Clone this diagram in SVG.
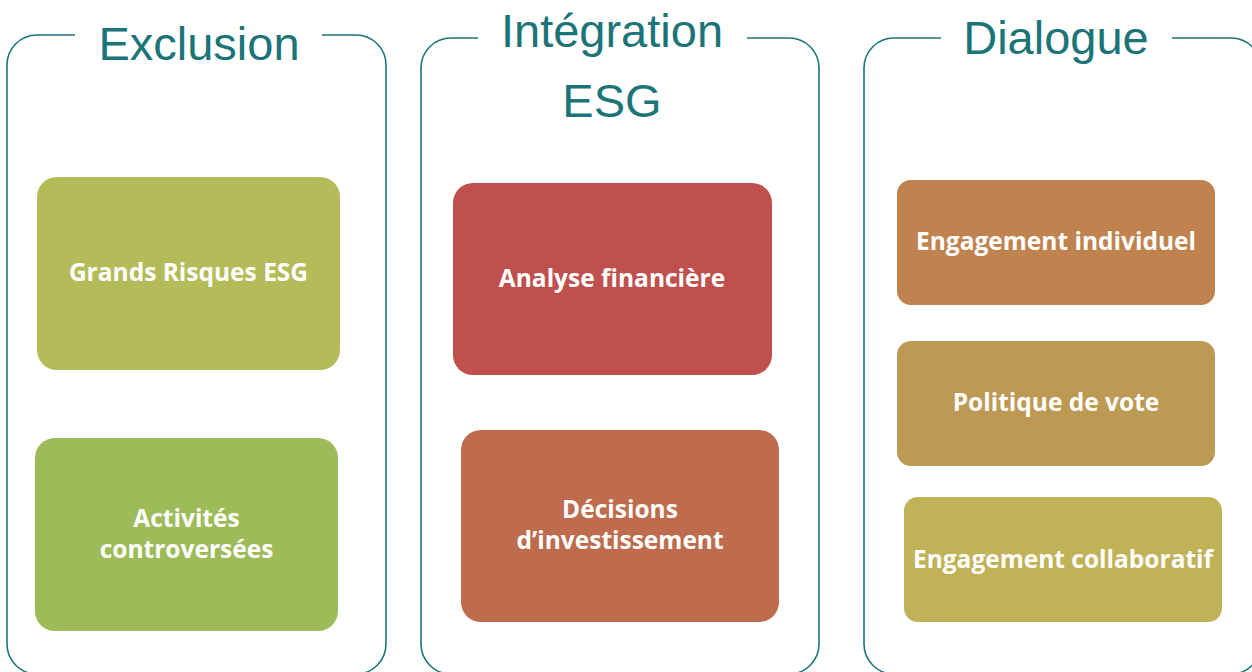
<svg xmlns="http://www.w3.org/2000/svg" width="1252" height="672" viewBox="0 0 1252 672">
<style>
.panel{fill:none;stroke:#1b7478;stroke-width:1.6}
.title{font-family:"Liberation Sans",Arial,sans-serif;font-size:47px;fill:#1b7478;text-anchor:middle}
.lbl{font-family:"Open Sans","Noto Sans",sans-serif;font-weight:bold;font-size:24.5px;fill:#ffffff;text-anchor:middle}
</style>
<rect width="1252" height="672" fill="#ffffff"/>
<g id="panel-exclusion">
<path class="panel" d="M75 35 H37 A30 30 0 0 0 7 65 V644 A30 30 0 0 0 37 674 H356 A30 30 0 0 0 386 644 V65 A30 30 0 0 0 356 35 H322"/>
<text class="title" x="199" y="60">Exclusion</text>
</g>
<g id="panel-integration">
<path class="panel" d="M478 38 H451 A30 30 0 0 0 421 68 V644 A30 30 0 0 0 451 674 H789 A30 30 0 0 0 819 644 V68 A30 30 0 0 0 789 38 H747"/>
<text class="title" x="612" y="47">Intégration</text>
<text class="title" x="612" y="117">ESG</text>
</g>
<g id="panel-dialogue">
<path class="panel" d="M941 38 H894 A30 30 0 0 0 864 68 V644 A30 30 0 0 0 894 674 H1231 A30 30 0 0 0 1261 644 V68 A30 30 0 0 0 1231 38 H1172"/>
<text class="title" x="1056" y="54">Dialogue</text>
</g>
<g id="node-grands-risques">
<rect x="37" y="177" width="303" height="193" rx="20" fill="#b3bc58"/>
<text class="lbl" x="188.5" y="281">Grands Risques ESG</text>
</g>
<g id="node-activites">
<rect x="35" y="438" width="303" height="193" rx="20" fill="#9dbb59"/>
<text class="lbl" x="186.5" y="527">Activités</text>
<text class="lbl" x="186.5" y="558">controversées</text>
</g>
<g id="node-analyse">
<rect x="453" y="183" width="319" height="192" rx="20" fill="#c0504d"/>
<text class="lbl" x="612" y="287">Analyse financière</text>
</g>
<g id="node-decisions">
<rect x="461" y="430" width="318" height="192" rx="20" fill="#be6b4e"/>
<text class="lbl" x="620" y="518">Décisions</text>
<text class="lbl" x="620" y="549">d’investissement</text>
</g>
<g id="node-engagement-individuel">
<rect x="897" y="180" width="318" height="125" rx="14" fill="#c0834f"/>
<text class="lbl" x="1056" y="250">Engagement individuel</text>
</g>
<g id="node-politique">
<rect x="897" y="341" width="318" height="125" rx="14" fill="#bd9a53"/>
<text class="lbl" x="1056" y="411">Politique de vote</text>
</g>
<g id="node-engagement-collaboratif">
<rect x="904" y="497" width="318" height="125" rx="14" fill="#c0b257"/>
<text class="lbl" x="1063" y="568">Engagement collaboratif</text>
</g>
<g id="connectors"></g>
</svg>
